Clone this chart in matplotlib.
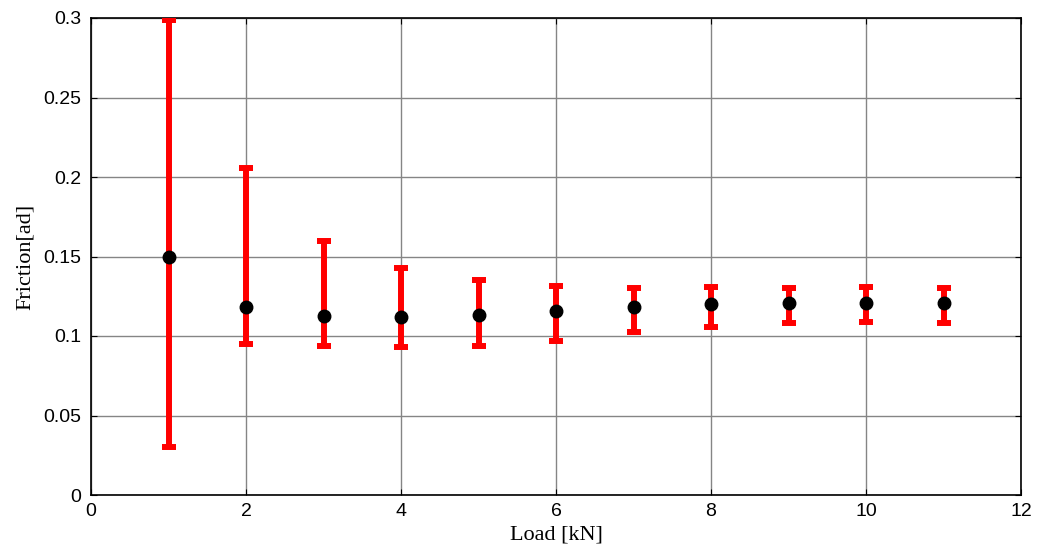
import matplotlib
matplotlib.use("Agg")
import matplotlib.pyplot as plt

load = [1, 2, 3, 4, 5, 6, 7, 8, 9, 10, 11]
friction = [0.150, 0.118, 0.1126, 0.112, 0.113, 0.116, 0.118, 0.120, 0.121, 0.121, 0.1205]
upper = [0.299, 0.2057, 0.160, 0.1428, 0.135, 0.1314, 0.130, 0.131, 0.130, 0.131, 0.130]
lower = [0.030, 0.095, 0.0937, 0.093, 0.094, 0.0968, 0.1025, 0.1057, 0.108, 0.109, 0.108]

xticks = [0, 2, 4, 6, 8, 10, 12]
yticks = [0, 0.05, 0.1, 0.15, 0.2, 0.25, 0.3]
yticklabels = ["0", "0.05", "0.1", "0.15", "0.2", "0.25", "0.3"]

fig = plt.figure(figsize=(10.37, 5.5), dpi=100)
ax = fig.add_axes([91/1037, 1-495/550, (1021-91)/1037, (495-18)/550])

yerr = [[f - l for f, l in zip(friction, lower)], [u - f for f, u in zip(friction, upper)]]
ax.errorbar(load, friction, yerr=yerr, fmt='o', color='black', ecolor='red',
            elinewidth=4.3, capsize=5, capthick=4.3, markersize=9, zorder=3)

ax.set_xlim(0, 12)
ax.set_ylim(0, 0.3)
ax.set_xticks(xticks)
ax.set_yticks(yticks)
ax.set_yticklabels(yticklabels)
ax.grid(True, color='#858585', linewidth=1.0, linestyle='-')
ax.set_axisbelow(True)
ax.tick_params(direction='in', top=True, right=True, length=4, width=0.8, labelsize=14)
ax.tick_params(axis='x', pad=6)
ax.tick_params(axis='y', pad=7)
for lab in ax.get_xticklabels() + ax.get_yticklabels():
    lab.set_fontfamily("Liberation Sans")
for s in ax.spines.values():
    s.set_linewidth(1.2)
    s.set_color('black')

ax.set_xlabel("Load [kN]", family="Liberation Serif", fontsize=16, labelpad=4)
ax.set_ylabel("Friction[ad]", family="Liberation Serif", fontsize=16, labelpad=6)

fig.savefig("out.png", dpi=100)
